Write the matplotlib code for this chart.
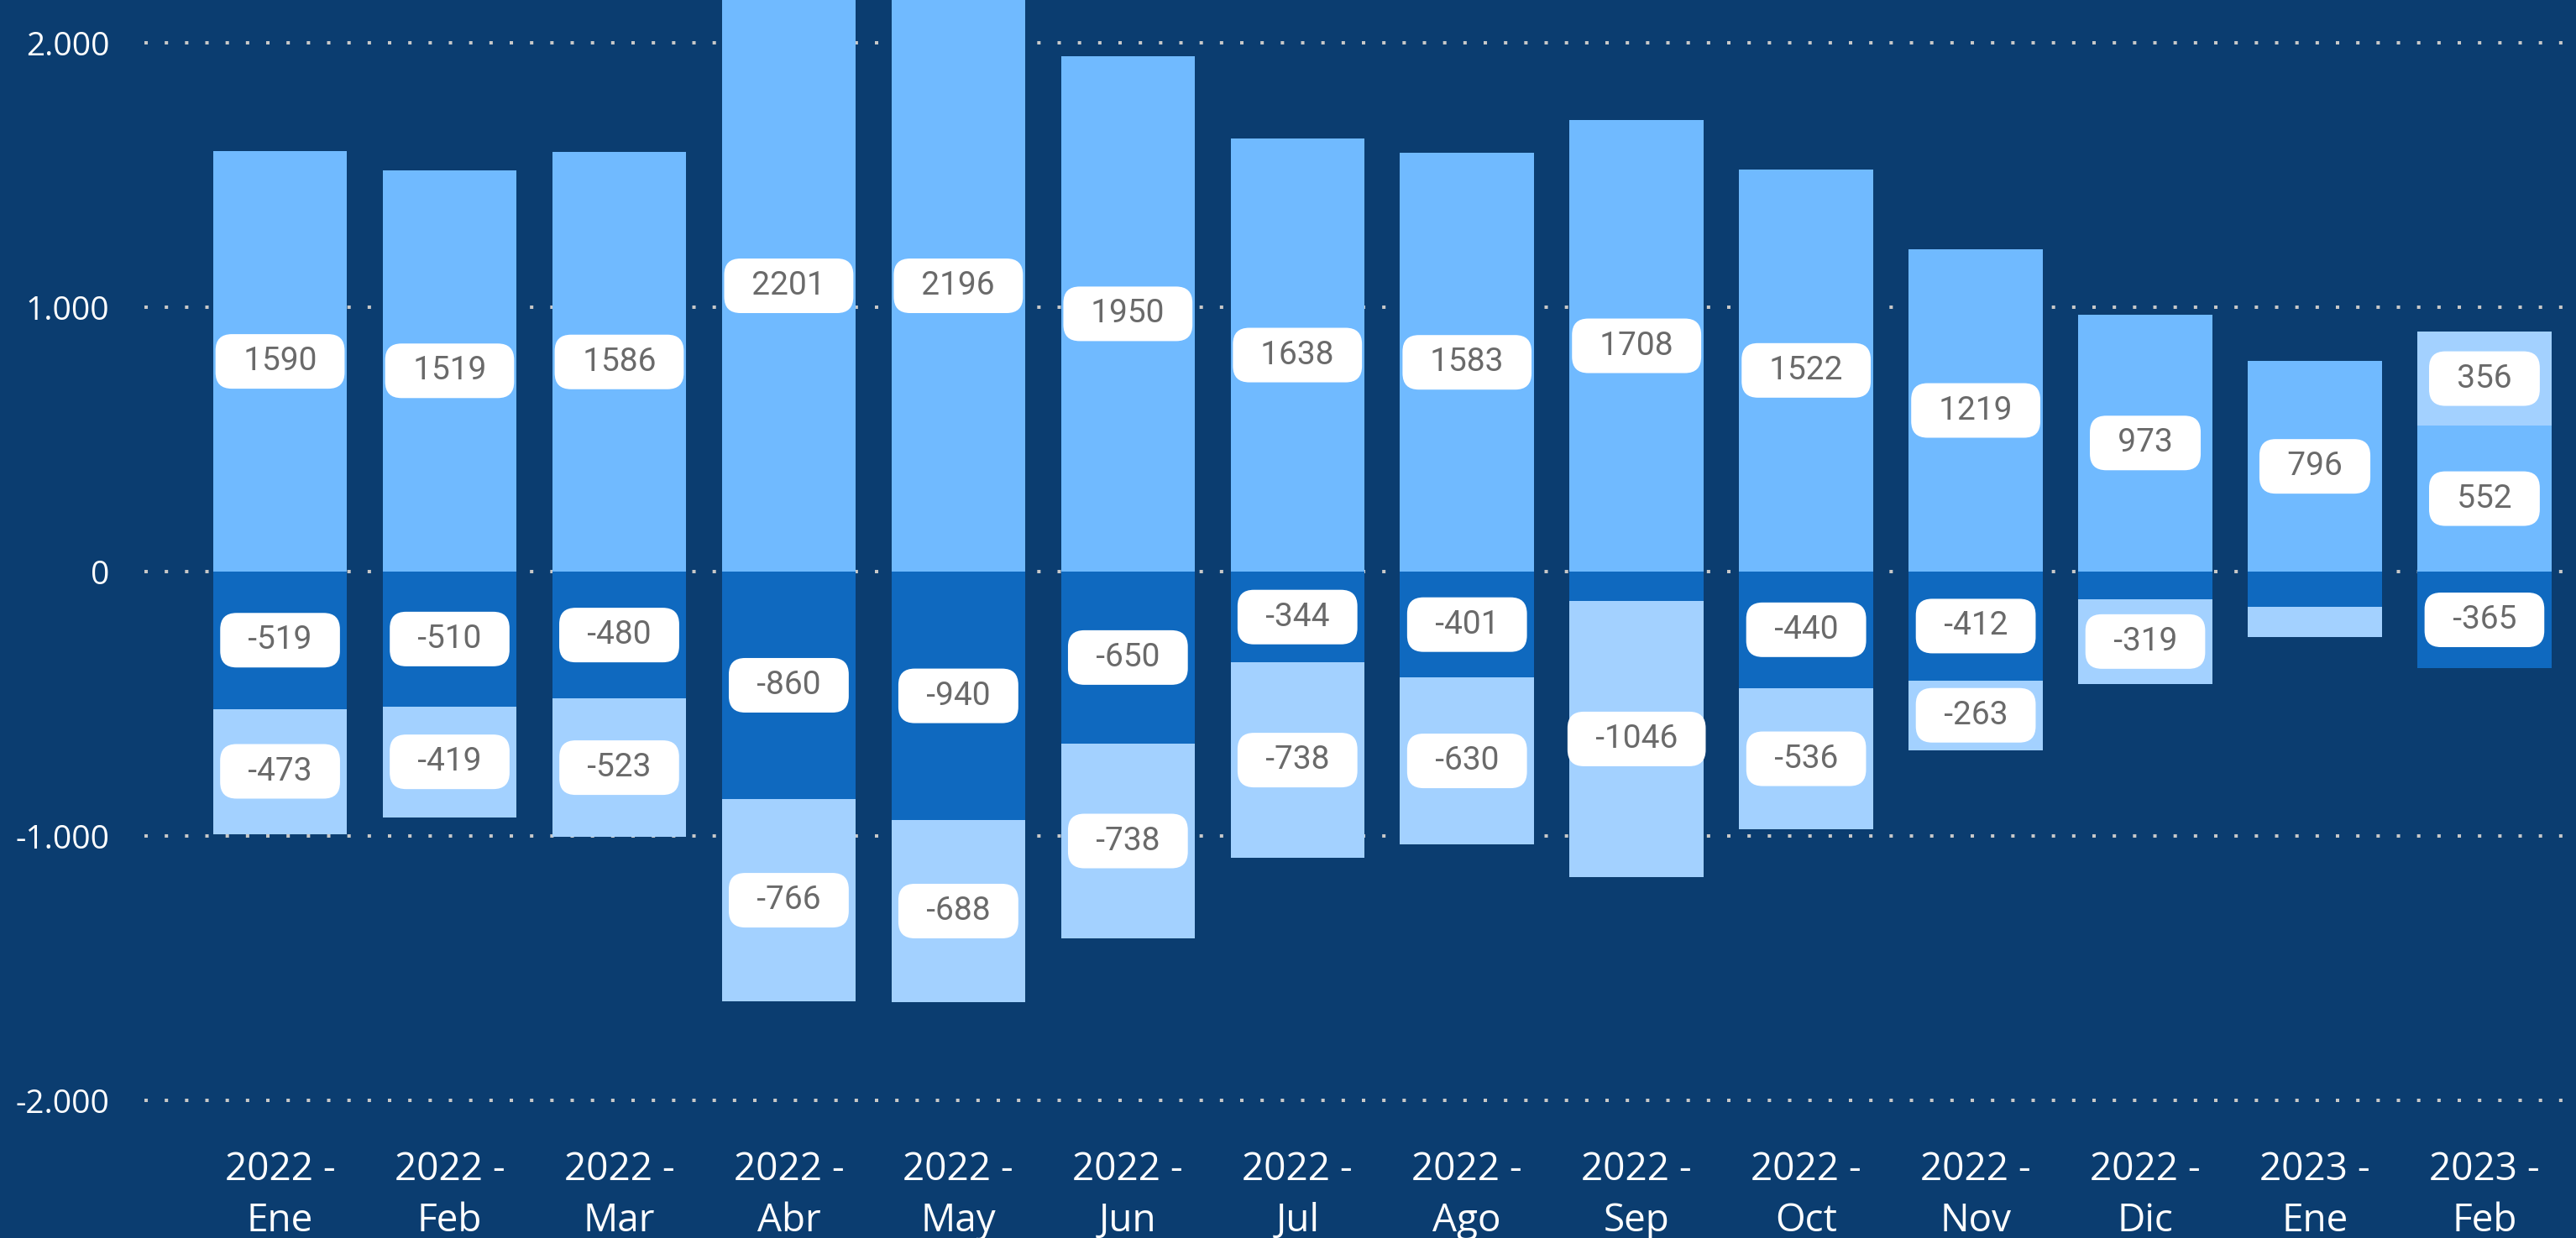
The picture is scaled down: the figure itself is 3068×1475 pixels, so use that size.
import matplotlib
matplotlib.use("Agg")
import matplotlib.pyplot as plt
from matplotlib.ticker import FuncFormatter

# datos por mes
years = ["2022"] * 12 + ["2023"] * 2
months = ["Ene", "Feb", "Mar", "Abr", "May", "Jun", "Jul", "Ago", "Sep", "Oct", "Nov", "Dic", "Ene", "Feb"]
pos_main = [1590, 1519, 1586, 2201, 2196, 1950, 1638, 1583, 1708, 1522, 1219, 973, 796, 552]
pos_extra = [0, 0, 0, 0, 0, 0, 0, 0, 0, 0, 0, 0, 0, 356]
neg_dark = [-519, -510, -480, -860, -940, -650, -344, -401, -110, -440, -412, -105, -133, -365]
neg_light = [-473, -419, -523, -766, -688, -738, -738, -630, -1046, -536, -263, -319, -115, 0]

BG = "#0b3d70"
C_MAIN = "#70baff"
C_LIGHT = "#a3d1ff"
C_DARK = "#0f69bf"

fig = plt.figure(figsize=(30.68, 14.75), dpi=100, facecolor=BG)
ax = fig.add_axes([172 / 3068, 1 - 1340 / 1475, 1 - 172 / 3068, 1340 / 1475])
ax.set_facecolor(BG)

x = list(range(len(months)))
w = 0.79
b1 = ax.bar(x, pos_main, w, color=C_MAIN, zorder=2)
b2 = ax.bar(x, pos_extra, w, bottom=pos_main, color=C_LIGHT, zorder=2)
b3 = ax.bar(x, neg_dark, w, color=C_DARK, zorder=2)
b4 = ax.bar(x, neg_light, w, bottom=neg_dark, color=C_LIGHT, zorder=2)

box = dict(boxstyle="round,pad=0.36,rounding_size=0.5", facecolor="white", edgecolor="none")
for cont, vals in [(b1, pos_main), (b2, pos_extra), (b3, neg_dark), (b4, neg_light)]:
    labels = [f"  {v}  " if abs(v) >= 200 else "" for v in vals]
    ax.bar_label(cont, labels=labels, label_type="center", bbox=box, color="#6a6a6a",
                 fontsize=28, family="Roboto", zorder=5)

ax.set_xlim(-0.8, 13.54)
ax.set_ylim(-2092, 2162)
ax.set_yticks([-2000, -1000, 0, 1000, 2000])
ax.yaxis.set_major_formatter(FuncFormatter(lambda v, p: f"{int(v):,}".replace(",", ".")))
ax.set_xticks(x)
ax.set_xticklabels([f"{y} -\n{m}" for y, m in zip(years, months)], linespacing=1.45)

ax.grid(axis="y", color="#c8c8c8", linewidth=2.9, linestyle=(0, (1, 5)), zorder=0)
ax.set_axisbelow(True)
for s in ax.spines.values():
    s.set_visible(False)
ax.tick_params(axis="y", length=0, pad=30, labelsize=28, labelcolor="white")
ax.tick_params(axis="x", length=0, pad=22, labelsize=33, labelcolor="white")
for t in ax.get_xticklabels() + ax.get_yticklabels():
    t.set_family("Open Sans")

fig.savefig("out.png", dpi=100, facecolor=BG)
plt.close(fig)
